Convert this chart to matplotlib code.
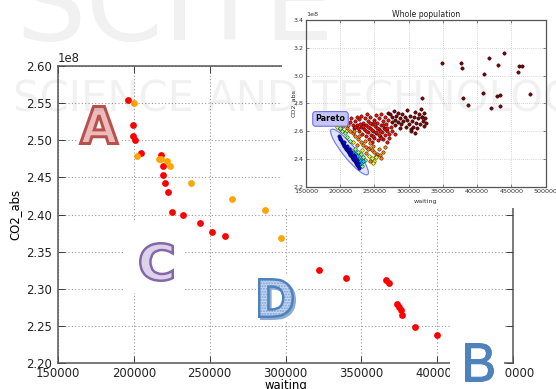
import matplotlib
matplotlib.use('Agg')
import matplotlib.pyplot as plt
import matplotlib.transforms as mtransforms
from matplotlib.patches import Rectangle, Ellipse, PathPatch
from matplotlib.textpath import TextPath
from matplotlib.font_manager import FontProperties
from matplotlib import colormaps

# ---------------- data: Pareto front (main chart) ----------------
red_waiting = [196250, 199500, 199500, 200650, 204600, 218200, 219300, 219500,
               220850, 222200, 225000, 232700, 243600, 251800, 260300, 322400,
               340100, 366000, 368400, 373500, 375000, 376300, 376500, 385100, 399600]
red_co2 = [2.554, 2.521, 2.506, 2.500, 2.483, 2.480, 2.465, 2.453,
           2.442, 2.430, 2.404, 2.400, 2.388, 2.376, 2.371, 2.325,
           2.315, 2.312, 2.308, 2.280, 2.276, 2.271, 2.265, 2.248, 2.238]  # x1e8
orange_waiting = [200200, 202000, 216600, 218200, 221700, 223700, 237500, 264900, 286600, 297200]
orange_co2 = [2.550, 2.479, 2.475, 2.475, 2.472, 2.465, 2.442, 2.421, 2.406, 2.368]  # x1e8

main_xticks = [150000, 200000, 250000, 300000, 350000, 400000, 450000]
main_yticks = [2.20, 2.25, 2.30, 2.35, 2.40, 2.45, 2.50, 2.55, 2.60]

# ---------------- data: whole population (inset), waiting in thousands, CO2 x1e8 ----------------
pareto_w = [198, 199.5, 200, 201.5, 202, 203.5, 204, 205.5, 206, 207.5, 208, 209, 210.5, 211,
            212.5, 213, 214.5, 215, 216.5, 217, 218.5, 219, 220.5, 221, 222.5, 223, 224.5,
            225, 226.5, 227, 205, 209.5, 213.5, 216, 219.5, 222, 224, 226]
pareto_c = [2.565, 2.552, 2.541, 2.537, 2.524, 2.518, 2.509, 2.502, 2.493, 2.488, 2.478, 2.471,
            2.466, 2.458, 2.452, 2.444, 2.439, 2.428, 2.421, 2.414, 2.408, 2.399, 2.394, 2.387,
            2.379, 2.371, 2.366, 2.356, 2.349, 2.338, 2.521, 2.493, 2.468, 2.452, 2.431, 2.412,
            2.392, 2.372]
cyan_w = [214, 218, 221, 224.5, 227, 229, 231, 228, 233]
cyan_c = [2.472, 2.452, 2.433, 2.418, 2.402, 2.388, 2.373, 2.361, 2.382]
green_w = [203, 206.5, 210, 215, 222, 226, 230.5, 234, 236, 232, 200]
green_c = [2.602, 2.583, 2.561, 2.532, 2.474, 2.451, 2.433, 2.412, 2.392, 2.352, 2.621]
yellow_w = [196, 199, 208, 218, 232, 242, 246, 250, 248, 252]
yellow_c = [2.632, 2.616, 2.603, 2.523, 2.463, 2.421, 2.403, 2.383, 2.368, 2.412]
orange_w = [204, 210, 214, 218, 222, 226, 230, 234, 238, 242, 246, 250, 254, 258, 262, 266,
            256, 248, 244, 236, 228, 220, 212, 252, 260, 225, 240, 238, 244]
orange_c = [2.634, 2.621, 2.603, 2.584, 2.562, 2.541, 2.523, 2.502, 2.489, 2.481, 2.462, 2.451,
            2.438, 2.431, 2.452, 2.483, 2.472, 2.492, 2.512, 2.531, 2.563, 2.602, 2.642, 2.422,
            2.404, 2.502, 2.472, 2.442, 2.386]
redpop_w = [214, 216, 218, 220, 222, 224, 225, 227, 228, 230, 231, 232, 233, 235, 236, 237,
            238, 239, 240, 241, 242, 243, 244, 245, 246, 247, 248, 249, 250, 251, 252, 253,
            254, 255, 256, 257, 258, 259, 260, 261, 262, 263, 264, 265, 266, 267, 268, 269,
            270, 272, 274, 246, 238, 234, 252, 258, 244, 229, 262, 256, 226, 222, 240, 250,
            254, 248, 266, 260, 268, 272, 276, 280]
redpop_c = [2.663, 2.692, 2.641, 2.622, 2.671, 2.703, 2.644, 2.602, 2.684, 2.633, 2.712, 2.581,
            2.662, 2.613, 2.691, 2.563, 2.642, 2.721, 2.594, 2.672, 2.541, 2.623, 2.702, 2.574,
            2.652, 2.523, 2.604, 2.683, 2.552, 2.634, 2.713, 2.583, 2.661, 2.534, 2.612, 2.692,
            2.563, 2.641, 2.722, 2.592, 2.671, 2.544, 2.623, 2.702, 2.571, 2.652, 2.522, 2.603,
            2.681, 2.582, 2.633, 2.611, 2.602, 2.634, 2.593, 2.604, 2.662, 2.653, 2.641, 2.572,
            2.621, 2.632, 2.633, 2.664, 2.622, 2.563, 2.612, 2.553, 2.621, 2.552, 2.603, 2.582]
dark_w = [270, 273, 276, 278, 280, 282, 284, 285, 287, 289, 290, 292, 294, 296, 298, 300,
          302, 303, 305, 306, 308, 309, 311, 312, 314, 315, 317, 318, 319, 320, 321, 322,
          323, 324, 326, 304, 297, 288, 310, 275, 280,
          349, 377, 378, 418, 431, 439, 410, 460, 461, 466, 319, 379, 387, 409, 429, 434,
          421, 433, 477]
dark_c = [2.731, 2.722, 2.703, 2.742, 2.681, 2.712, 2.663, 2.734, 2.692, 2.652, 2.721, 2.672,
          2.703, 2.633, 2.682, 2.654, 2.712, 2.613, 2.671, 2.632, 2.702, 2.741, 2.662, 2.621,
          2.693, 2.722, 2.653, 2.762, 2.702, 2.701, 2.672, 2.634, 2.733, 2.691, 2.662, 2.603,
          2.752, 2.622, 2.583, 2.664, 2.642,
          3.088, 3.088, 3.052, 3.126, 3.074, 3.162, 3.011, 3.028, 3.066, 3.066, 2.836, 2.836,
          2.788, 2.877, 2.853, 2.862, 2.764, 2.781, 2.867]
group_colors = [('dark', 1.0), ('red', 0.9), ('orange', 0.78), ('yellow', 0.64),
                ('green', 0.5), ('cyan', 0.33), ('pareto', 0.12)]
inset_xticks = [150000, 200000, 250000, 300000, 350000, 400000, 450000, 500000]
inset_yticks = [2.2, 2.4, 2.6, 2.8, 3.0, 3.2, 3.4]

# ---------------- figure ----------------
W, H = 556, 389
fig = plt.figure(figsize=(W / 100, H / 100), dpi=100)


def fx(px):
    return px / W


def fy(py):
    return 1 - py / H


grid_kw = dict(color='#9a9a9a', linestyle=(0, (1, 2)), linewidth=0.8)

# main axes
ax = fig.add_axes([fx(58), fy(363), fx(513) - fx(58), fy(66) - fy(363)])
ax.set_axisbelow(True)
ax.grid(True, **grid_kw)
ax.scatter(red_waiting, [v * 1e8 for v in red_co2], s=24, color='#ff0000', linewidths=0, zorder=3)
ax.scatter(orange_waiting, [v * 1e8 for v in orange_co2], s=24, color='#ffa500', linewidths=0, zorder=3)
ax.set_xlim(150000, 450000)
ax.set_ylim(2.20e8, 2.60e8)
ax.set_xticks(main_xticks)
ax.set_yticks([v * 1e8 for v in main_yticks])
ax.tick_params(direction='in', top=True, right=True, length=5, width=0.6, labelsize=8.4,
               colors='#222222')
ax.tick_params(axis='x', pad=3)
ax.tick_params(axis='y', pad=4)
ax.yaxis.get_offset_text().set_fontsize(8.4)
for s in ax.spines.values():
    s.set_color('#555555')
    s.set_linewidth(1.1)
ax.set_xlabel('waiting', fontsize=8.4)
ax.set_ylabel('CO2_abs', fontsize=8.4)
ax.xaxis.set_label_coords(0.5, -(379 - 363) / 297)
ax.yaxis.set_label_coords(-(58 - 21) / 455, 0.5)

# white background of the inset picture
fig.add_artist(Rectangle((fx(282), fy(208)), 1 - fx(282), fy(0) - fy(208),
                         transform=fig.transFigure, facecolor='white', edgecolor='none', zorder=2.5))

# inset axes
ax_in = fig.add_axes([fx(306), fy(186.7), fx(545.5) - fx(306), fy(20) - fy(186.7)], zorder=3)
ax_in.set_axisbelow(True)
ax_in.grid(True, color='#b0b0b0', linestyle=(0, (1, 2)), linewidth=0.5)
ax_in.set_xlim(150000, 500000)
ax_in.set_ylim(2.2e8, 3.4e8)
ax_in.set_xticks(inset_xticks)
ax_in.set_yticks([v * 1e8 for v in inset_yticks])
ax_in.tick_params(direction='in', top=True, right=True, length=2.5, width=0.4, labelsize=4.6,
                  colors='#333333', pad=2)
ax_in.yaxis.get_offset_text().set_fontsize(4.6)
for s in ax_in.spines.values():
    s.set_color('#555555')
    s.set_linewidth(0.9)
ax_in.set_title('Whole population', fontsize=5.6, pad=2.5, color='#222222')
ax_in.set_xlabel('waiting', fontsize=4.6, color='#333333')
ax_in.set_ylabel('CO2_abs', fontsize=4.6, color='#333333')
ax_in.xaxis.set_label_coords(0.5, -(199 - 186.7) / 166.7)
ax_in.yaxis.set_label_coords(-(306 - 297) / 239.5, 0.5)

cmap = colormaps['jet']
groups = {'dark': (dark_w, dark_c), 'red': (redpop_w, redpop_c), 'orange': (orange_w, orange_c),
          'yellow': (yellow_w, yellow_c), 'green': (green_w, green_c), 'cyan': (cyan_w, cyan_c),
          'pareto': (pareto_w, pareto_c)}

# Pareto ellipse (positioned in data coords, sized in inches)
ell_tr = fig.dpi_scale_trans + mtransforms.ScaledTranslation(213600, 2.45e8, ax_in.transData)
ell = Ellipse((0, 0), width=0.58, height=0.13, angle=-51, transform=ell_tr,
              facecolor=(0.72, 0.76, 1.0, 0.45), edgecolor='#6a78e0', linewidth=0.8, zorder=1.5)
ax_in.add_artist(ell)

for name, val in group_colors:
    wx, cy = groups[name]
    ax_in.scatter([w * 1000 for w in wx], [c * 1e8 for c in cy], s=6, color=cmap(val),
                  edgecolors='black', linewidths=0.3, zorder=3)

ax_in.text(185800, 2.688e8, 'Pareto', fontsize=5.8, fontweight='bold', ha='center', va='center',
           zorder=6, bbox=dict(boxstyle='round,pad=0.35', fc='#c6c6f6', ec='#6f6fe0', lw=0.8))


# ---------------- pasted letters ----------------
def white_box(x0, y0, x1, y1):
    fig.add_artist(Rectangle((fx(x0), fy(y1)), fx(x1) - fx(x0), fy(y0) - fy(y1),
                             transform=fig.transFigure, facecolor='white', edgecolor='none', zorder=4))


def letter(ch, x0, y0, x1, y1, fc, ec, lw_px, weight='bold', family='DejaVu Sans',
           hatch=None, shadow=None):
    fp = FontProperties(family=family, weight=weight)
    path = TextPath((0, 0), ch, size=100, prop=fp)
    ext = path.get_extents()
    bw = (x1 - x0) - lw_px
    bh = (y1 - y0) - lw_px
    sx = bw / ext.width
    sy = bh / ext.height
    bx = x0 + lw_px / 2
    by = (H - y1) + lw_px / 2

    def tr(dx=0, dy=0):
        return (mtransforms.Affine2D().translate(-ext.x0, -ext.y0).scale(sx, sy)
                .translate(bx + dx, by + dy).scale(1 / 100) + fig.dpi_scale_trans)

    if shadow is not None:
        fig.add_artist(PathPatch(path, transform=tr(2, -2), facecolor=shadow, edgecolor=shadow,
                                 linewidth=lw_px * 0.72, zorder=5))
    if hatch is not None:
        fig.add_artist(PathPatch(path, transform=tr(), facecolor=fc, edgecolor='#7fa3d6',
                                 linewidth=0, hatch=hatch, zorder=5.1))
        fig.add_artist(PathPatch(path, transform=tr(), facecolor='none', edgecolor=ec,
                                 linewidth=lw_px * 0.72, zorder=5.2))
    else:
        fig.add_artist(PathPatch(path, transform=tr(), facecolor=fc, edgecolor=ec,
                                 linewidth=lw_px * 0.72, zorder=5.1))


white_box(78, 105, 121, 147)
letter('A', 79, 105, 119, 145, '#ebbcbc', '#b9504c', 3)
white_box(125, 222, 184, 293)
letter('C', 139, 242, 174, 282, '#dcd2ea', '#8467a8', 2.5)
white_box(256, 275, 297, 322)
letter('D', 258, 278, 294, 318, '#c4d6ef', '#4f81bd', 2.5, hatch='......', shadow='#8eabd3')
white_box(450, 322, 504, 389)
letter('B', 465, 343, 494, 382, '#4f81bd', '#4f81bd', 1.2, weight='normal', family='Liberation Sans')

# ---------------- faint watermark ----------------
fig.text(fx(16), fy(40), 'SCITE', fontsize=80, color='black', alpha=0.055, zorder=10)
fig.text(fx(13), fy(112), 'SCIENCE AND TECHNOLOGY', fontsize=30, color='black', alpha=0.055,
         zorder=10)

fig.savefig('out.png', dpi=100)
